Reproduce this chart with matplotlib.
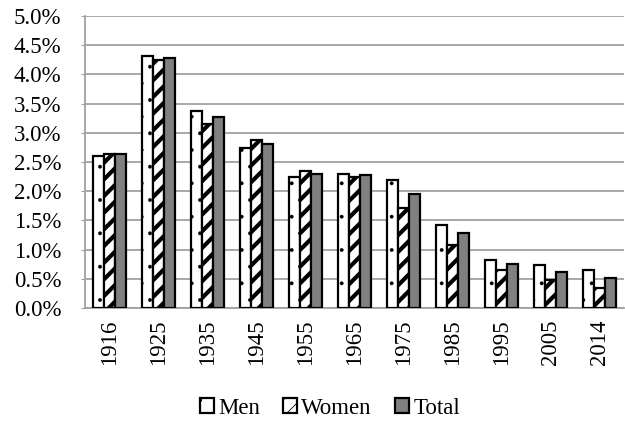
import numpy as np
import matplotlib
matplotlib.use("Agg")
import matplotlib.pyplot as plt
from matplotlib.ticker import PercentFormatter

years = ["1916", "1925", "1935", "1945", "1955", "1965", "1975", "1985", "1995", "2005", "2014"]
men = [2.61, 4.32, 3.38, 2.74, 2.24, 2.30, 2.19, 1.43, 0.82, 0.74, 0.66]
women = [2.64, 4.24, 3.15, 2.88, 2.35, 2.24, 1.71, 1.08, 0.66, 0.48, 0.34]
total = [2.63, 4.28, 3.27, 2.81, 2.29, 2.27, 1.96, 1.28, 0.76, 0.62, 0.51]

plt.rcParams['font.family'] = ['Liberation Serif', 'DejaVu Serif']
plt.rcParams['font.size'] = 16.5


def hatch_lw(bars, lw):
    # per-bar hatch thickness (matplotlib >= 3.10)
    for p in bars:
        if hasattr(p, "set_hatch_linewidth"):
            p.set_hatch_linewidth(lw)


fig = plt.figure(figsize=(6.25, 4.22), dpi=100)
ax = fig.add_axes([0.136, 0.270, 0.862, 0.692])

x = np.arange(len(years))
w = 0.224

plt.rcParams['hatch.linewidth'] = 0.3
b1 = ax.bar(x - w, men, w, color="white", edgecolor="black", linewidth=1.6, hatch=".", label="Men", zorder=3)
hatch_lw(b1, 0.3)
plt.rcParams['hatch.linewidth'] = 3.0
b2 = ax.bar(x, women, w, color="white", edgecolor="black", linewidth=1.6, hatch="//", label="Women", zorder=3)
hatch_lw(b2, 3.0)
plt.rcParams['hatch.linewidth'] = 0.6
b3 = ax.bar(x + w, total, w, color="#808080", edgecolor="black", linewidth=1.6, label="Total", zorder=3)

ax.set_xlim(-0.5, len(years) - 0.5)
ax.set_ylim(0, 5.0)
ax.set_yticks(np.arange(0, 5.01, 0.5))
ax.yaxis.set_major_formatter(PercentFormatter(decimals=1))
ax.set_xticks(x)
ax.set_xticklabels(years, rotation=90)
ax.tick_params(axis="x", length=0, pad=8)
ax.tick_params(axis="y", length=3, color="#a0a0a0", pad=14)
ax.grid(axis="y", color="#a0a0a0", linewidth=1.3, zorder=0)
ax.set_axisbelow(True)
for s in ["top", "right"]:
    ax.spines[s].set_visible(False)
for s in ["left", "bottom"]:
    ax.spines[s].set_color("#a0a0a0")
    ax.spines[s].set_linewidth(1.3)

leg = fig.legend(handles=[b1, b2, b3], loc="center", bbox_to_anchor=(0.528, 0.033), ncol=3,
                 frameon=False, handlelength=0.6, handleheight=0.6, handletextpad=0.2,
                 columnspacing=1.0, fontsize=16.5)

fig.savefig("out.png", dpi=100)
